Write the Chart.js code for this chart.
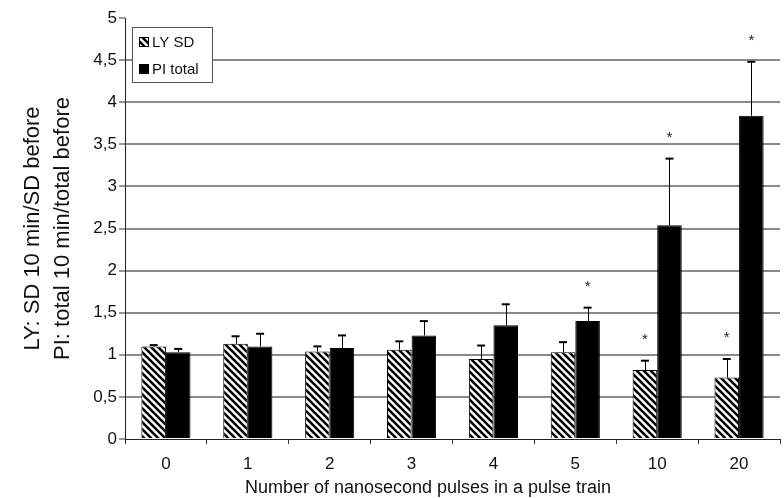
<!DOCTYPE html>
<html>
<head>
<meta charset="utf-8">
<script src="https://cdn.jsdelivr.net/npm/chart.js@4/dist/chart.umd.min.js"></script>
<style>
  html, body { margin: 0; padding: 0; background: #fff; }
  #c { display: block; }
</style>
</head>
<body>
<canvas id="c" width="784" height="498"></canvas>
<script>
// ---- data ----
const categories = ['0', '1', '2', '3', '4', '5', '10', '20'];
const lySD       = [1.10, 1.13, 1.04, 1.06, 0.95, 1.03, 0.82, 0.73];
const lySDErr    = [0.015, 0.09, 0.06, 0.10, 0.16, 0.12, 0.11, 0.22];
const lySDSig    = [false, false, false, false, false, false, true, true];
const piTotal    = [1.03, 1.10, 1.08, 1.23, 1.35, 1.40, 2.54, 3.84];
const piTotalErr = [0.04, 0.15, 0.15, 0.17, 0.25, 0.16, 0.79, 0.64];
const piTotalSig = [false, false, false, false, false, true, true, true];
const yTickLabels = ['0', '0,5', '1', '1,5', '2', '2,5', '3', '3,5', '4', '4,5', '5'];
const seriesNames = ['LY SD', 'PI total'];
const yTitle = ['LY: SD 10 min/SD before', 'PI: total 10 min/total before'];
const xTitle = 'Number of nanosecond pulses in a pulse train';

const FONT = '"Liberation Sans", Arial, sans-serif';

// hatch pattern (\\\ stripes)
function makeHatch() {
  const s = 7;
  const c = document.createElement('canvas');
  c.width = s; c.height = s;
  const g = c.getContext('2d');
  g.fillStyle = '#fff';
  g.fillRect(0, 0, s, s);
  g.strokeStyle = '#000';
  g.lineWidth = 2.6;
  g.beginPath();
  g.moveTo(-s, -s); g.lineTo(2 * s, 2 * s);
  g.moveTo(-s, 0); g.lineTo(s, 2 * s);
  g.moveTo(0, -s); g.lineTo(2 * s, s);
  g.stroke();
  return g.createPattern(c, 'repeat');
}
const hatch = makeHatch();

const errorBarPlugin = {
  id: 'errorBars',
  afterDatasetsDraw(chart) {
    const ctx = chart.ctx;
    const y = chart.scales.y;
    chart.data.datasets.forEach((ds, di) => {
      const meta = chart.getDatasetMeta(di);
      meta.data.forEach((bar, i) => {
        const v = ds.data[i];
        const e = ds.errors[i];
        const yTop = y.getPixelForValue(v);
        const yErr = y.getPixelForValue(v + e);
        ctx.save();
        ctx.strokeStyle = '#000';
        ctx.lineWidth = 1;
        ctx.beginPath();
        ctx.moveTo(Math.round(bar.x) + 0.5, yTop);
        ctx.lineTo(Math.round(bar.x) + 0.5, yErr);
        ctx.stroke();
        ctx.lineWidth = 2;
        ctx.beginPath();
        ctx.moveTo(bar.x - 4, yErr);
        ctx.lineTo(bar.x + 4, yErr);
        ctx.stroke();
        if (ds.sig[i]) {
          ctx.fillStyle = '#222';
          ctx.font = '15px ' + FONT;
          ctx.textAlign = 'center';
          ctx.textBaseline = 'alphabetic';
          ctx.fillText('*', bar.x, yErr - 17);
        }
        ctx.restore();
      });
    });
  }
};

const legendAndTitlePlugin = {
  id: 'legendBox',
  afterDraw(chart) {
    const ctx = chart.ctx;
    const a = chart.chartArea;
    const bx = a.left + 7, by = 27, bw = 80, bh = 55;
    ctx.save();
    ctx.fillStyle = '#fff';
    ctx.fillRect(bx, by, bw, bh);
    ctx.strokeStyle = '#555';
    ctx.lineWidth = 1;
    ctx.strokeRect(bx + 0.5, by + 0.5, bw, bh);
    chart.data.datasets.forEach((ds, i) => {
      const cy = by + 15 + i * 27;
      ctx.fillStyle = ds.backgroundColor;
      ctx.fillRect(bx + 7, cy - 5, 10, 10);
      ctx.strokeStyle = '#000';
      ctx.strokeRect(bx + 7.5, cy - 4.5, 9, 9);
      ctx.fillStyle = '#111';
      ctx.font = '15px ' + FONT;
      ctx.textAlign = 'left';
      ctx.textBaseline = 'middle';
      ctx.fillText(ds.label, bx + 20, cy + 1);
    });
    // x axis title
    ctx.fillStyle = '#111';
    ctx.font = '18px ' + FONT;
    ctx.textAlign = 'center';
    ctx.textBaseline = 'middle';
    ctx.fillText(xTitle, 428, 488);
    ctx.restore();
  }
};

new Chart(document.getElementById('c'), {
  type: 'bar',
  data: {
    labels: categories,
    datasets: [
      {
        label: seriesNames[0],
        data: lySD,
        errors: lySDErr,
        sig: lySDSig,
        backgroundColor: hatch,
        borderColor: '#000',
        borderWidth: 1,
        categoryPercentage: 0.6,
        barPercentage: 1.0
      },
      {
        label: seriesNames[1],
        data: piTotal,
        errors: piTotalErr,
        sig: piTotalSig,
        backgroundColor: '#000',
        borderColor: '#000',
        borderWidth: 1,
        categoryPercentage: 0.6,
        barPercentage: 1.0
      }
    ]
  },
  options: {
    responsive: false,
    animation: false,
    devicePixelRatio: 1,
    layout: { padding: { top: 18, right: 4, bottom: 0, left: 0 } },
    plugins: {
      legend: { display: false },
      tooltip: { enabled: false }
    },
    scales: {
      x: {
        offset: true,
        grid: {
          display: true,
          drawOnChartArea: false,
          drawTicks: true,
          tickLength: 5,
          color: '#333',
          offset: true
        },
        border: { display: true, color: '#222', width: 1 },
        ticks: {
          color: '#111',
          font: { family: FONT, size: 17 },
          padding: 10,
          maxRotation: 0
        },
        title: { display: false },
        afterFit(scale) { scale.height = 59; }
      },
      y: {
        min: 0,
        max: 5,
        ticks: {
          stepSize: 0.5,
          color: '#111',
          font: { family: FONT, size: 17 },
          padding: 2,
          callback: (value, index) => yTickLabels[index]
        },
        grid: {
          color: (c) => (c.tick && (c.tick.value === 0 || c.tick.value === 5)) ? 'rgba(0,0,0,0)' : '#8a8a8a',
          lineWidth: 2,
          tickColor: '#333',
          tickWidth: 1,
          tickLength: 6,
          drawTicks: true
        },
        border: { display: true, color: '#222', width: 1 },
        title: {
          display: true,
          text: yTitle,
          color: '#111',
          font: { family: FONT, size: 22, lineHeight: 1.35 },
          padding: { top: 18, bottom: 0 }
        },
        afterFit(scale) { scale.width = 125; }
      }
    }
  },
  plugins: [errorBarPlugin, legendAndTitlePlugin]
});
</script>
</body>
</html>
